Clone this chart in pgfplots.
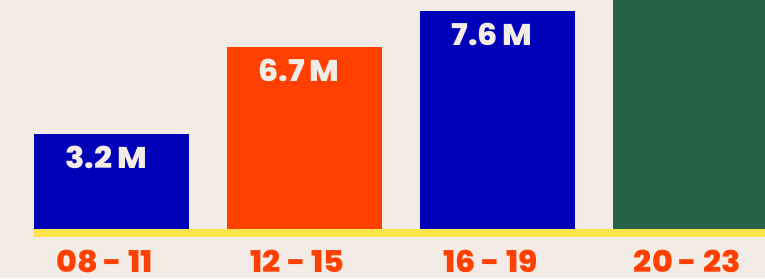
\documentclass[border=0pt]{standalone}
\usepackage{pgfplots}
\pgfplotsset{compat=1.18}
\usepackage{fontspec}
\setmainfont{Poppins}
\newfontfamily\lab{Poppins ExtraBold}[FakeStretch=1.06]
\definecolor{bg}{HTML}{F3EBE5}
\definecolor{cblue}{HTML}{0000B8}
\definecolor{corange}{HTML}{FF4000}
\definecolor{cgreen}{HTML}{256347}
\definecolor{cyellow}{HTML}{FCE44C}
\begin{document}
\begin{tikzpicture}
\begin{axis}[
  width=765pt, height=278pt, scale only axis,
  xmin=-0.578, xmax=3.386, ymin=-1.707, ymax=7.979,
  axis background/.style={fill=bg},
  axis line style={draw=none},
  major tick length=0pt,
  ytick=\empty,
  xtick={-0.036,0.964,1.964,2.984},
  xticklabels={08 - 11, 12 - 15, 16 - 19, 20 - 23},
  xticklabel style={anchor=base, inner sep=0pt, yshift=5.2pt, text=corange, font=\lab\fontsize{30}{30}\selectfont},
  ybar, bar width=155pt, bar shift=0pt,
  point meta=explicit symbolic,
  nodes near coords,
  every node near coord/.append style={anchor=base, inner sep=0pt, yshift=-34.3pt, xshift=-5.5pt, text=bg, font=\lab\fontsize{30}{30}\selectfont},
  clip=true,
]
\addplot[fill=cblue, draw=none] coordinates {(0,3.31) [3.2\,M]};
\addplot[fill=corange, draw=none] coordinates {(1,6.34) [6.7\,M]};
\addplot[fill=cblue, draw=none] coordinates {(2,7.60) [7.6\,M]};
\addplot[fill=cgreen, draw=none, nodes near coords=] coordinates {(3,9.5) []};
\addplot[ybar=0pt, sharp plot, fill=cyellow, draw=none, nodes near coords=] coordinates {(-0.402,0) (3.5,0) (3.5,-0.279) (-0.402,-0.279)} -- cycle;
\end{axis}
\end{tikzpicture}
\end{document}
